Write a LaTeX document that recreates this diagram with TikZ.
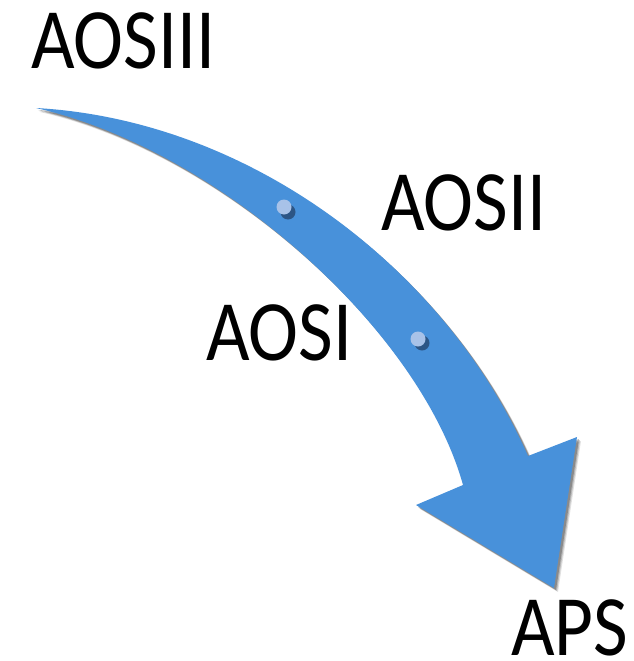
\documentclass[tikz,border=0pt]{standalone}
\usepackage{fontspec}
\setmainfont{Carlito}
\usepackage{tikz}
\definecolor{bleu}{RGB}{72,145,218}
\definecolor{pointclair}{RGB}{168,194,232}
\definecolor{ombrepoint}{RGB}{35,65,105}
\newcommand{\trajet}{(36,108) .. controls (250,120) and (445,268) .. (528,456) -- (577,437) -- (554,588) -- (416,505) -- (463,485) .. controls (420,330) and (220,150) .. (36,108) -- cycle}

\begin{document}
\begin{tikzpicture}[x=1pt,y=-1pt]
\tikzstyle{fleche}=[fill=bleu,draw=none]
\tikzset{etiquette/.style={inner sep=0pt,anchor=base west,xscale=0.875,font=\fontsize{86}{90}\selectfont},
point/.style={circle,inner sep=0pt,minimum size=15pt,fill=#1},
point/.default={pointclair}}
\useasboundingbox (0,0) rectangle (633,661);

% ombre de la fleche
\foreach \d/\o in {4/0.12,3/0.18,2/0.25}{
\fill[black,opacity=\o,shift={(\d,\d)}] \trajet;
}
\fill[fleche] \trajet;

% points sur la fleche
\fill[ombrepoint,opacity=0.75] (288,212) circle (7.5pt);
\fill[ombrepoint,opacity=0.75] (422,343) circle (7.5pt);
\node[point] (p1) at (284,207) {};
\node[point] (p2) at (418,339) {};

\node[etiquette] (aos3) at (31,68) {AOSIII};
\node[etiquette] (aos2) at (381,230) {AOSII};
\node[etiquette] (aos1) at (206,360) {AOSI};
\node[etiquette] (aps) at (511,655) {APS};

\end{tikzpicture}
\end{document}
